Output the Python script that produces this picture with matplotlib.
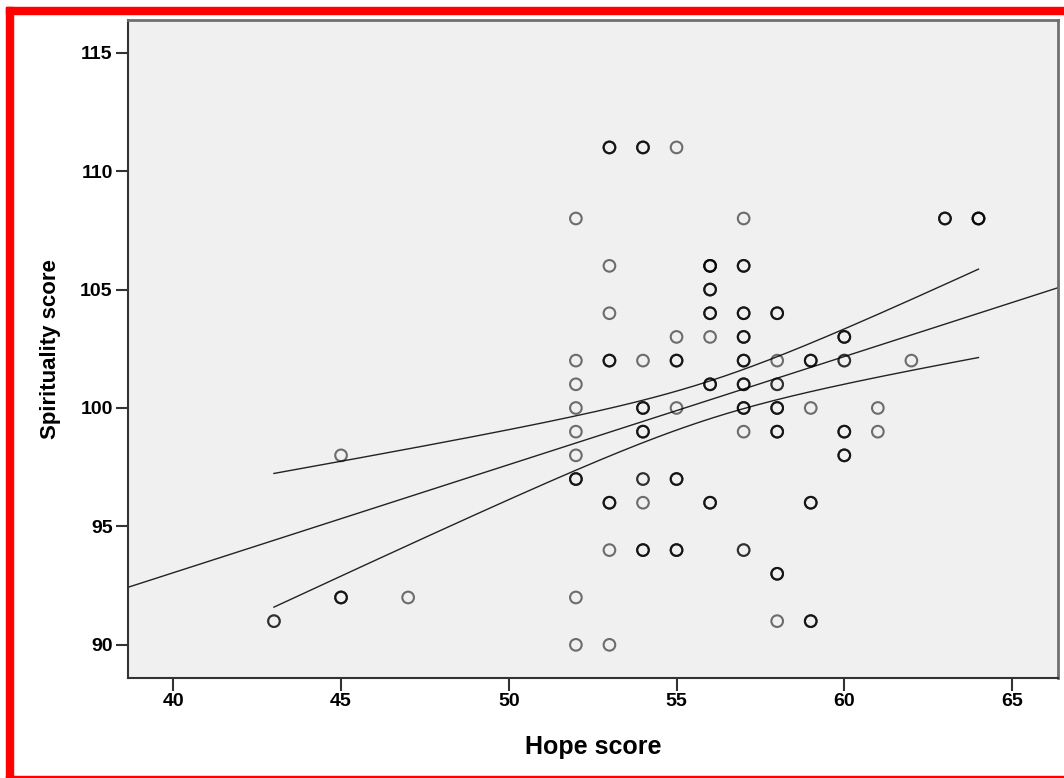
import numpy as np
import matplotlib
matplotlib.use("Agg")
import matplotlib.pyplot as plt
from matplotlib.patches import Rectangle

# ============================================================
# DATA  (hope score, spirituality score, how many cases share that point)
# ============================================================

hope = [43, 45, 45, 47,
        52, 52, 52, 52, 52, 52, 52, 52, 52,
        53, 53, 53, 53, 53, 53, 53,
        54, 54, 54, 54, 54, 54, 54,
        55, 55, 55, 55, 55, 55,
        56, 56, 56, 56, 56, 56,
        57, 57, 57, 57, 57, 57, 57, 57, 57,
        58, 58, 58, 58, 58, 58, 58,
        59, 59, 59, 59,
        60, 60, 60, 60,
        61, 61, 62, 63, 64]
spirit = [91, 98, 92, 92,
          108, 102, 101, 100, 99, 98, 97, 92, 90,
          111, 106, 104, 102, 96, 94, 90,
          111, 102, 100, 99, 97, 96, 94,
          111, 103, 102, 100, 97, 94,
          106, 105, 104, 103, 101, 96,
          108, 106, 104, 103, 102, 101, 100, 99, 94,
          104, 102, 101, 100, 99, 93, 91,
          102, 100, 96, 91,
          103, 102, 99, 98,
          100, 99, 102, 108, 108]
counts = [2, 1, 3, 1,
          1, 1, 1, 1, 1, 1, 3, 1, 1,
          3, 1, 1, 3, 3, 1, 1,
          3, 1, 3, 3, 2, 1, 3,
          1, 1, 3, 1, 3, 3,
          4, 3, 3, 1, 3, 3,
          1, 3, 3, 3, 3, 3, 3, 1, 2,
          3, 1, 2, 3, 3, 3, 1,
          3, 1, 3, 3,
          3, 2, 3, 3,
          1, 1, 1, 3, 4]

x_ticks = [40, 45, 50, 55, 60, 65]
y_ticks = [90, 95, 100, 105, 110, 115]

# expand to one row per case
x = np.repeat(np.array(hope, dtype=float), counts)
y = np.repeat(np.array(spirit, dtype=float), counts)

# ============================================================
# LINEAR FIT + 95% CI OF THE MEAN
# ============================================================

n = len(x)
b1, b0 = np.polyfit(x, y, 1)
resid = y - (b0 + b1 * x)
s = np.sqrt(np.sum(resid ** 2) / (n - 2))
sxx = np.sum((x - x.mean()) ** 2)
t_crit = 1.976

xlim = (38.65, 66.37)
xfit = np.linspace(xlim[0], xlim[1], 200)
xci = np.linspace(x.min(), x.max(), 200)
half = t_crit * s * np.sqrt(1 / n + (xci - x.mean()) ** 2 / sxx)

# ============================================================
# PLOT
# ============================================================

fig = plt.figure(figsize=(10.64, 7.78), dpi=100)
ax = fig.add_axes([128 / 1064, 100 / 778, 930 / 1064, 658 / 778])
ax.set_facecolor("#f0f0f0")

ax.scatter(x, y, s=70, facecolors="none", edgecolors=(0, 0, 0, 0.55),
           linewidths=1.5, zorder=3)
ax.plot(xfit, b0 + b1 * xfit, color="#222222", lw=1.0, zorder=2)
ax.plot(xci, b0 + b1 * xci + half, color="#222222", lw=1.0, zorder=2)
ax.plot(xci, b0 + b1 * xci - half, color="#222222", lw=1.0, zorder=2)

ax.set_xlim(*xlim)
ax.set_ylim(88.6, 116.38)
ax.set_xticks(x_ticks)
ax.set_yticks(y_ticks)

for sp in ["left", "bottom"]:
    ax.spines[sp].set_color("#333333")
    ax.spines[sp].set_linewidth(1.5)
for sp in ["top", "right"]:
    ax.spines[sp].set_color("#707070")
    ax.spines[sp].set_linewidth(2.0)

ax.tick_params(direction="out", length=9, width=1.5, color="#333333",
               pad=2, labelsize=14)
for lab in ax.get_xticklabels() + ax.get_yticklabels():
    lab.set_fontfamily("Liberation Sans")
    lab.set_fontweight("bold")

ax.set_xlabel("Hope score", fontsize=18, fontweight="bold",
              family="Liberation Sans", labelpad=18)
ax.set_ylabel("Spirituality score", fontsize=16, fontweight="bold",
              family="Liberation Sans", labelpad=14)

# red frame around the picture
W, H = 1064, 778
fig.patches.append(Rectangle((6 / W, 0), 7 / W, 771 / H, transform=fig.transFigure,
                             color="#ff0000", zorder=10))
fig.patches.append(Rectangle((6 / W, 764 / H), 1058 / W, 7 / H, transform=fig.transFigure,
                             color="#ff0000", zorder=10))
fig.patches.append(Rectangle((6 / W, 0), 1058 / W, 2 / H, transform=fig.transFigure,
                             color="#ff0000", zorder=10))

fig.savefig("out.png", dpi=100)
